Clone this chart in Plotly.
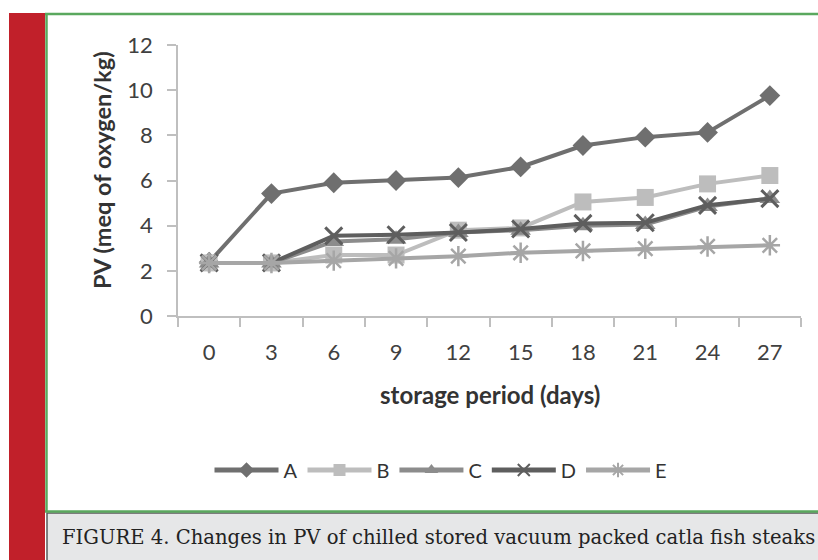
import plotly.graph_objects as go

days = ["0", "3", "6", "9", "12", "15", "18", "21", "24", "27"]
series_names = ["A", "B", "C", "D", "E"]
A = [2.38, 5.42, 5.9, 6.0, 6.13, 6.6, 7.55, 7.92, 8.13, 9.76]
B = [2.35, 2.35, 2.7, 2.7, 3.8, 3.9, 5.05, 5.25, 5.85, 6.22]
C = [2.35, 2.35, 3.3, 3.4, 3.7, 3.8, 4.0, 4.05, 4.85, 5.2]
D = [2.35, 2.35, 3.55, 3.6, 3.7, 3.85, 4.1, 4.13, 4.9, 5.2]
E = [2.35, 2.35, 2.45, 2.55, 2.65, 2.8, 2.88, 2.98, 3.08, 3.13]
y_ticks = [0, 2, 4, 6, 8, 10, 12]
x_title = "storage period (days)"
y_title = "PV (meq of oxygen/kg)"
caption = "FIGURE 4. Changes in PV of chilled stored vacuum packed catla fish steaks"

W, H = 818, 560
PL, PR, PT, PB = 178, 801, 45, 316


def fx(px):
    return (px - PL) / (PR - PL)


def fy(py):
    return (PB - py) / (PB - PT)


styles = {
    "A": dict(color="#6f6f6f", symbol="diamond", size=16, lw=0),
    "B": dict(color="#bdbdbd", symbol="square", size=17, lw=0),
    "C": dict(color="#8c8c8c", symbol="triangle-up", size=18, lw=0),
    "D": dict(color="#5e5e5e", symbol="x-thin", size=17, lw=3),
    "E": dict(color="#a6a6a6", symbol="asterisk-open", size=17, lw=2.5),
}
data = {"A": A, "B": B, "C": C, "D": D, "E": E}

fig = go.Figure()
for name in series_names:
    s = styles[name]
    fig.add_trace(go.Scatter(
        x=days, y=data[name], name=name, mode="lines+markers",
        line=dict(color=s["color"], width=4),
        marker=dict(symbol=s["symbol"], size=s["size"], color=s["color"],
                    line=dict(width=s["lw"], color=s["color"])),
    ))

shapes = [
    dict(type="rect", xref="paper", yref="paper", x0=fx(9), x1=fx(45), y0=fy(13), y1=fy(560),
         fillcolor="#c1202a", line=dict(width=0), layer="below"),
    dict(type="rect", xref="paper", yref="paper", x0=fx(47), x1=fx(830), y0=fy(513), y1=fy(570),
         fillcolor="#e6e7e8", line=dict(width=1.5, color="#5a5a5a"), layer="below"),
    dict(type="line", xref="paper", yref="paper", x0=fx(45), x1=fx(818), y0=fy(14), y1=fy(14),
         line=dict(color="#5aa85e", width=2.5)),
    dict(type="line", xref="paper", yref="paper", x0=fx(46.5), x1=fx(46.5), y0=fy(13), y1=fy(512),
         line=dict(color="#5aa85e", width=2.5)),
    dict(type="line", xref="paper", yref="paper", x0=fx(45), x1=fx(818), y0=fy(511.5), y1=fy(511.5),
         line=dict(color="#5aa85e", width=2.5)),
]

fig.update_layout(
    width=W, height=H,
    margin=dict(l=PL, r=W - PR, t=PT, b=H - PB),
    paper_bgcolor="white", plot_bgcolor="white",
    font=dict(family="Lato", color="#404040"),
    showlegend=True,
    legend=dict(orientation="h", x=fx(441), xanchor="center", y=fy(470), yanchor="middle",
                font=dict(size=20, color="#333333"), itemwidth=64, itemsizing="constant",
                traceorder="normal"),
    shapes=shapes,
    annotations=[
        dict(text=caption, xref="paper", yref="paper", x=fx(60), y=fy(537),
             xanchor="left", yanchor="middle", showarrow=False,
             font=dict(family="DejaVu Serif", size=19.6, color="#222222")),
        dict(text="<b>" + x_title + "</b>", xref="paper", yref="paper", x=fx(490), y=fy(394),
             xanchor="center", yanchor="middle", showarrow=False,
             font=dict(family="Lato", size=24, color="#333333")),
        dict(text="<b>" + y_title + "</b>", xref="paper", yref="paper", x=fx(102), y=fy(170),
             xanchor="center", yanchor="middle", showarrow=False, textangle=-90,
             font=dict(family="Lato", size=23.5, color="#333333")),
    ],
)

fig.update_xaxes(
    type="category", range=[-0.5, 9.5], tickson="boundaries",
    showline=True, linecolor="#bfbfbf", linewidth=1.5,
    ticks="outside", ticklen=9, tickcolor="#bfbfbf", tickwidth=1.5,
    showgrid=False, zeroline=False,
    tickfont=dict(size=22, color="#404040"), ticklabelstandoff=16,
)
fig.update_yaxes(
    range=[0, 12], tickvals=y_ticks,
    showline=True, linecolor="#bfbfbf", linewidth=1.5,
    ticks="outside", ticklen=9, tickcolor="#bfbfbf", tickwidth=1.5,
    showgrid=False, zeroline=False,
    tickfont=dict(size=22, color="#404040"), ticklabelstandoff=10,
)

fig.write_html("out.html", config={"displayModeBar": False},
               post_script="document.body.style.margin='0';document.body.style.padding='0';")
